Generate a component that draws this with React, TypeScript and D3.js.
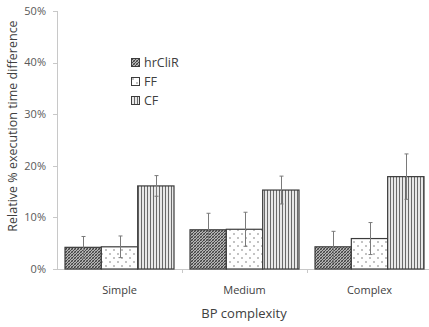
import { useEffect, useRef } from 'react';
import * as d3 from 'd3';

const categories = ['Simple', 'Medium', 'Complex'];
const seriesNames = ['hrCliR', 'FF', 'CF'];
// values in %, one array per series (Simple, Medium, Complex)
const hrCliR = [4.2, 7.6, 4.3];
const ff = [4.3, 7.7, 5.9];
const cf = [16.1, 15.3, 17.9];
// error bar half-widths in %
const hrCliRErr = [2.1, 3.2, 3.0];
const ffErr = [2.1, 3.3, 3.1];
const cfErr = [2.0, 2.7, 4.4];
const yTicks = [0, 10, 20, 30, 40, 50];

const W = 429;
const H = 327;

export default function App() {
  const svgRef = useRef<SVGSVGElement>(null);

  useEffect(() => {
    if (!svgRef.current) return;
    const svg = d3.select(svgRef.current);
    svg.selectAll('*').remove();

    const values = [hrCliR, ff, cf];
    const errs = [hrCliRErr, ffErr, cfErr];
    const font = "'Open Sans', sans-serif";

    // Patterns
    const defs = svg.append('defs');
    const p1 = defs.append('pattern')
      .attr('id', 'pat-hr').attr('patternUnits', 'userSpaceOnUse')
      .attr('width', 3).attr('height', 3);
    p1.append('rect').attr('width', 3).attr('height', 3).attr('fill', '#b5b5b5');
    p1.append('path').attr('d', 'M0,3 L3,0 M-1,1 L1,-1 M2,4 L4,2')
      .attr('stroke', '#333').attr('stroke-width', 0.9);
    p1.append('path').attr('d', 'M0,0 L3,3')
      .attr('stroke', '#555').attr('stroke-width', 0.6);

    const p2 = defs.append('pattern')
      .attr('id', 'pat-ff').attr('patternUnits', 'userSpaceOnUse')
      .attr('width', 8).attr('height', 8);
    p2.append('rect').attr('width', 8).attr('height', 8).attr('fill', '#fff');
    p2.append('circle').attr('cx', 2).attr('cy', 2).attr('r', 0.8).attr('fill', '#777');
    p2.append('circle').attr('cx', 6).attr('cy', 6).attr('r', 0.8).attr('fill', '#777');

    const p3 = defs.append('pattern')
      .attr('id', 'pat-cf').attr('patternUnits', 'userSpaceOnUse')
      .attr('width', 3).attr('height', 3);
    p3.append('rect').attr('width', 3).attr('height', 3).attr('fill', '#e8e8e8');
    p3.append('rect').attr('x', 0).attr('width', 1).attr('height', 3).attr('fill', '#6a6a6a');

    const fills = ['url(#pat-hr)', 'url(#pat-ff)', 'url(#pat-cf)'];

    const x0 = d3.scaleBand().domain(categories).range([57, 432]).padding(0);
    const x1 = d3.scaleBand().domain(seriesNames).range([8, x0.bandwidth() - 8]).padding(0);
    const y = d3.scaleLinear().domain([0, 50]).range([269, 11]);

    // Y axis
    svg.append('line')
      .attr('x1', 57.5).attr('x2', 57.5).attr('y1', y(50)).attr('y2', y(0))
      .attr('stroke', '#c8c8c8');
    yTicks.forEach(t => {
      svg.append('line')
        .attr('x1', 53).attr('x2', 57.5)
        .attr('y1', Math.round(y(t)) + 0.5).attr('y2', Math.round(y(t)) + 0.5)
        .attr('stroke', '#c8c8c8');
      svg.append('text')
        .attr('x', 46).attr('y', y(t))
        .attr('dy', '0.35em')
        .attr('text-anchor', 'end')
        .attr('font-family', font).attr('font-size', 11)
        .attr('fill', '#595959')
        .text(`${t}%`);
    });

    // X axis baseline with ticks between categories
    svg.append('line')
      .attr('x1', 57).attr('x2', 432).attr('y1', y(0) + 0.5).attr('y2', y(0) + 0.5)
      .attr('stroke', '#c8c8c8');
    categories.forEach((c, i) => {
      if (i > 0) {
        const tx = Math.round(x0(c)!) + 0.5;
        svg.append('line')
          .attr('x1', tx).attr('x2', tx).attr('y1', y(0)).attr('y2', y(0) + 4)
          .attr('stroke', '#c8c8c8');
      }
      svg.append('text')
        .attr('x', x0(c)! + x0.bandwidth() / 2).attr('y', 294)
        .attr('text-anchor', 'middle')
        .attr('font-family', font).attr('font-size', 11)
        .attr('fill', '#404040')
        .text(c);
    });

    // Bars
    seriesNames.forEach((s, si) => {
      categories.forEach((c, ci) => {
        const v = values[si][ci];
        const bx = x0(c)! + x1(s)!;
        svg.append('rect')
          .attr('x', bx).attr('y', y(v))
          .attr('width', x1.bandwidth()).attr('height', y(0) - y(v))
          .attr('fill', fills[si])
          .attr('stroke', '#3c3c3c').attr('stroke-width', 1.2);
      });
    });

    // Error bars
    seriesNames.forEach((s, si) => {
      categories.forEach((c, ci) => {
        const v = values[si][ci];
        const e = errs[si][ci];
        const cx = Math.round(x0(c)! + x1(s)! + x1.bandwidth() / 2) + 0.5;
        svg.append('line')
          .attr('x1', cx).attr('x2', cx).attr('y1', y(v + e)).attr('y2', y(v - e))
          .attr('stroke', '#7a7a7a').attr('stroke-width', 1);
        [v + e, v - e].forEach(ev => {
          svg.append('line')
            .attr('x1', cx - 2).attr('x2', cx + 2).attr('y1', y(ev)).attr('y2', y(ev))
            .attr('stroke', '#7a7a7a').attr('stroke-width', 1);
        });
      });
    });

    // Legend
    const legend = svg.append('g').attr('transform', 'translate(131,58)');
    seriesNames.forEach((s, i) => {
      const row = legend.append('g').attr('transform', `translate(0,${i * 19})`);
      row.append('rect')
        .attr('x', 0.5).attr('y', 0.5).attr('width', 8).attr('height', 8)
        .attr('fill', fills[i]).attr('stroke', '#3c3c3c').attr('stroke-width', 1);
      row.append('text')
        .attr('x', 13).attr('y', 4.5).attr('dy', '0.35em')
        .attr('font-family', font).attr('font-size', 12.5)
        .attr('fill', '#404040')
        .text(s);
    });

    // Axis titles
    svg.append('text')
      .attr('transform', 'rotate(-90)')
      .attr('x', -126).attr('y', 17)
      .attr('text-anchor', 'middle')
      .attr('font-family', font).attr('font-size', 12.5)
      .attr('fill', '#404040')
      .text('Relative % execution time difference');

    svg.append('text')
      .attr('x', 244).attr('y', 318)
      .attr('text-anchor', 'middle')
      .attr('font-family', font).attr('font-size', 13)
      .attr('fill', '#404040')
      .text('BP complexity');
  }, []);

  return (
    <svg
      ref={svgRef}
      width={W}
      height={H}
      style={{ position: 'absolute', left: 0, top: 0, background: '#fff' }}
    />
  );
}
